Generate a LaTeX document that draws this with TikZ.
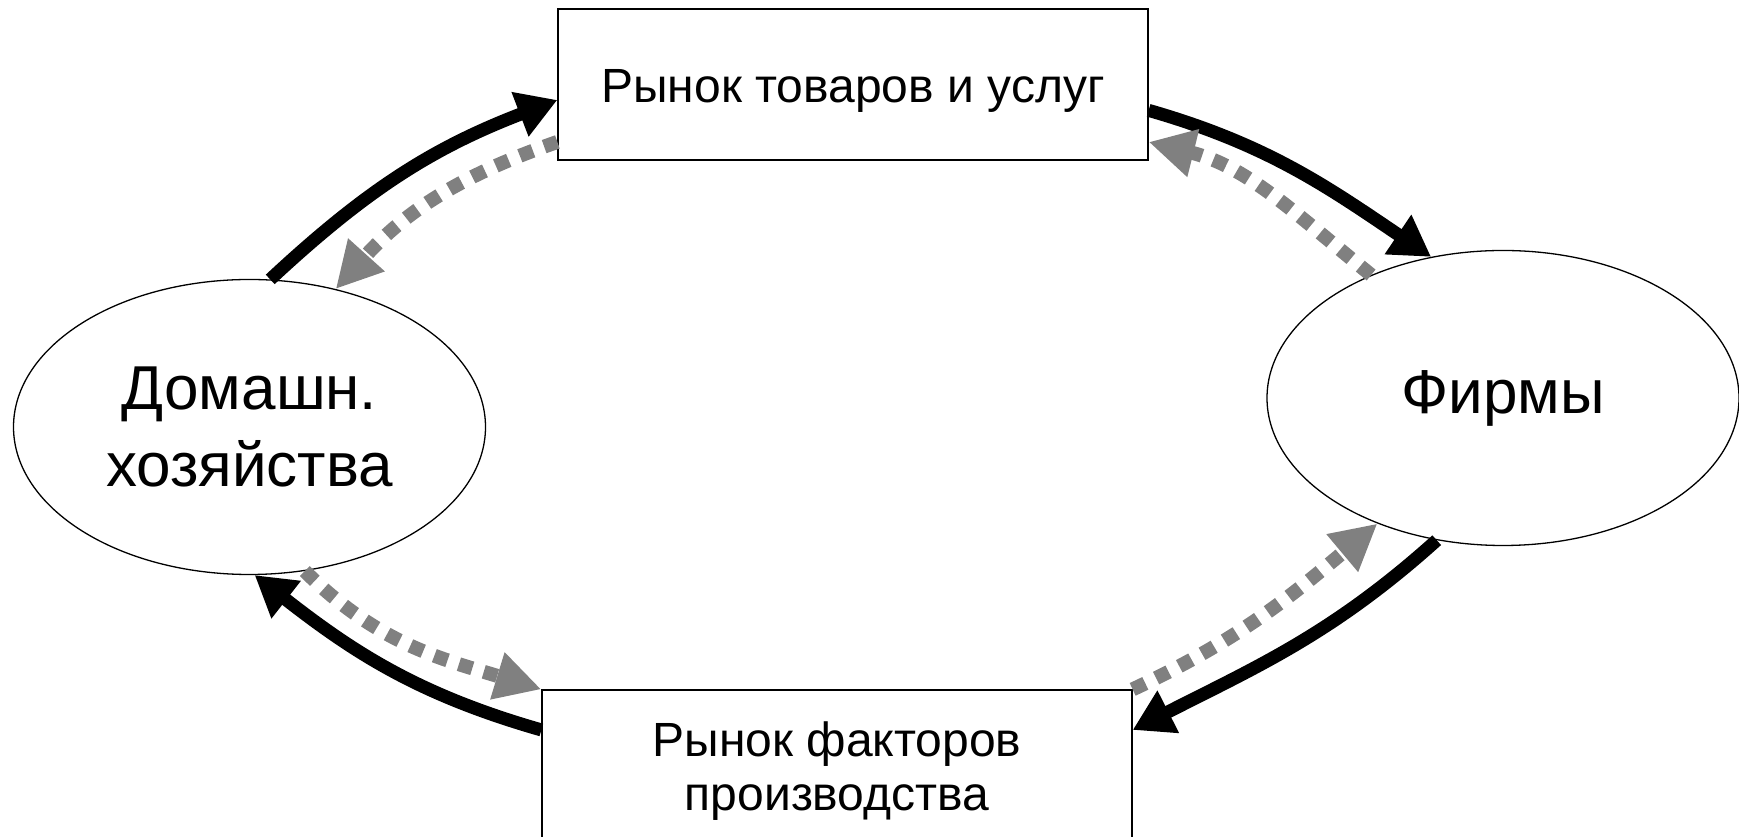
\documentclass[tikz,border=0pt]{standalone}
\usepackage{fontspec}
\setmainfont{Liberation Sans}
\usetikzlibrary{arrows.meta,shapes.geometric}
\begin{document}
\begin{tikzpicture}[x=1pt,y=1pt,
  box/.style={draw=black,line width=1.3pt,rectangle,minimum width=590pt,inner sep=0pt,align=center,font=\fontsize{48}{54}\selectfont},
  oval/.style={draw=black,line width=1.3pt,ellipse,minimum width=472pt,minimum height=295pt,inner sep=0pt,align=center,font=\fontsize{62}{77}\selectfont},
  flow/.style={line width=13pt,black,-{Triangle[length=40pt,width=45pt]}},
  money/.style={line width=14pt,gray,dash pattern=on 14pt off 12pt,-{Triangle[length=46pt,width=46pt]}}
]
\useasboundingbox (0,0) rectangle (1739,837);
\node[box,minimum height=151pt,text height=47pt,text depth=10pt] (T) at (853,752.5) {Рынок товаров и услуг};
\node[box,minimum height=163pt] (B) at (837,65.5) {Рынок факторов\\производства};
\node[oval] (L) at (249.5,410) {Домашн.\\хозяйства};
\node[oval] (R) at (1503,439) {Фирмы};
% black flows
\draw[flow] (L.82) to[out=43,in=201] (T.183);
\draw[flow] (T.355) to[out=-16,in=146] (R.117);
\draw[flow] (R.245) to[out=222,in=27] (B.8);
\draw[flow] (B.172) to[out=164,in=-38] (L.272);
% gray flows
\draw[money] (T.191) to[out=199,in=48] (L.58);
\draw[money] (R.137) to[out=141,in=-14] (T.349);
\draw[money] (B.north east) to[out=25,in=220] (R.225);
\draw[money] (L.291) to[out=-45,in=163] (B.north west);
\end{tikzpicture}
\end{document}
